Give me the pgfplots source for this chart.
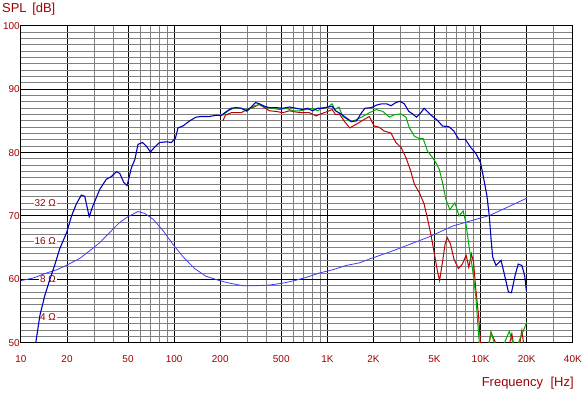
\documentclass[border=0pt]{standalone}
\usepackage{pgfplots}
\pgfplotsset{compat=1.18}
\usepackage{fontspec}
\setmainfont{Liberation Sans}
\usetikzlibrary{calc}
\definecolor{lblred}{RGB}{160,0,0}
\definecolor{splblue}{RGB}{0,0,185}
\definecolor{splgreen}{RGB}{0,170,0}
\definecolor{splred}{RGB}{190,0,0}
\definecolor{impblue}{RGB}{60,60,255}
\definecolor{gridgray}{RGB}{128,128,128}
\begin{document}
\begin{tikzpicture}
\begin{axis}[
  name=main,
  scale only axis,
  width=554pt, height=318pt,
  xmode=log, log basis x=10,
  xmin=10, xmax=40000, ymin=50, ymax=100,
  xtick={10,20,50,100,200,500,1000,2000,5000,10000,20000,40000},
  xticklabels={10,20,50,100,200,500,1K,2K,5K,10K,20K,40K},
  minor xtick={30,40,60,70,80,90,300,400,600,700,800,900,3000,4000,6000,7000,8000,9000,30000},
  ytick={50,60,70,80,90,100},
  yticklabels={50,60,70,80,90,100},
  minor ytick={51,52,53,54,55,56,57,58,59,61,62,63,64,65,66,67,68,69,71,72,73,74,75,76,77,78,79,81,82,83,84,85,86,87,88,89,91,92,93,94,95,96,97,98,99},
  grid=both,
  major grid style={black, line width=1pt},
  minor grid style={gridgray, line width=1pt},
  major tick length=0pt, minor tick length=0pt,
  axis line style={black, line width=1pt},
  xticklabel style={font=\fontsize{10}{10}\selectfont, text=lblred, anchor=center, yshift=-16pt},
  yticklabel style={font=\fontsize{10}{10}\selectfont, text=lblred, anchor=east, xshift=-1pt, inner sep=0pt},
  clip=true,
]
% impedance scale labels
\node[anchor=east, fill=white, inner sep=1pt, text=lblred, font=\fontsize{10}{10}\selectfont] at (axis cs:17.2,72) {32 Ω};
\node[anchor=east, fill=white, inner sep=1pt, text=lblred, font=\fontsize{10}{10}\selectfont] at (axis cs:17.2,66) {16 Ω};
\node[anchor=east, fill=white, inner sep=1pt, text=lblred, font=\fontsize{10}{10}\selectfont] at (axis cs:17.2,60) {8 Ω};
\node[anchor=east, fill=white, inner sep=1pt, text=lblred, font=\fontsize{10}{10}\selectfont] at (axis cs:17.2,54) {4 Ω};

% impedance curve
\addplot[impblue, line width=0.8pt, no marks] coordinates {
(10,59.8) (12,60.2) (14.7,61.0) (17.1,61.5) (19.8,62.2) (24.2,63.3) (28.1,64.5)
(32.7,65.8) (38,67.4) (44.2,69.0) (50,69.9) (58.1,70.7) (64.3,70.4) (72.8,69.5)
(84.6,67.7) (98.4,65.5) (108,64.3) (114,63.6) (136,61.7) (161,60.5) (198,59.8)
(230,59.4) (280,59.0) (342,59.0) (419,59.1) (512,59.4) (611,59.8) (727,60.3)
(888,61.0) (1080,61.5) (1330,62.2) (1620,62.6) (1880,63.2) (2540,64.3)
(3980,66.1) (4610,66.7) (6560,68.4) (11500,70.1) (20000,72.8)
};

% red SPL
\addplot[splred, line width=1pt, no marks] coordinates {
(208,85.0) (216,85.9) (236,86.3) (255,86.3) (274,86.3) (298,86.8) (326,87.1)
(358,87.6) (389,87.1) (419,86.6) (463,86.5) (512,86.3) (566,86.6) (625,86.4)
(690,86.3) (764,86.3) (843,85.8) (903,86.1) (1005,86.5) (1075,86.8) (1130,86.0)
(1200,86.1) (1285,85.0) (1400,83.9) (1550,84.5) (1700,85.1) (1880,85.7)
(2020,84.2) (2180,84.0) (2350,83.4) (2600,83.1) (2800,81.6) (3030,80.8)
(3260,79.2) (3500,77.1) (3700,75.0) (3980,73.7) (4280,71.9) (4510,69.5)
(4740,67.1) (4970,64.3) (5220,61.4) (5400,59.8) (5640,62.7) (5870,65.6)
(6060,66.6) (6360,65.6) (6700,63.2) (7170,61.7) (7600,62.4) (8050,63.8)
(8380,61.9) (8710,64.0) (9000,62.7) (9300,58.5) (9700,54.3) (10000,49.8)
(10500,47) (11000,48) (11700,51.6) (12800,49.5) (13500,48) (15000,48.5)
(16000,51.4) (16500,49.5) (17500,48) (18600,51.9) (19200,49.5) (20000,48)
};

% green SPL
\addplot[splgreen, line width=1pt, no marks] coordinates {
(208,85.9) (225,86.6) (249,87.1) (274,87.0) (298,86.5) (326,87.3) (361,87.6)
(398,87.1) (440,87.0) (486,86.8) (537,87.0) (594,86.6) (656,86.6) (726,86.8)
(800,87.0) (864,86.6) (932,87.1) (1005,87.1) (1075,87.7) (1120,86.8)
(1190,87.2) (1260,85.7) (1360,85.2) (1434,84.9) (1550,85.2) (1700,85.7)
(1880,86.3) (2090,86.8) (2300,86.5) (2540,85.6) (2740,86.0) (3030,86.1)
(3260,85.6) (3430,83.9) (3700,82.6) (3980,82.2) (4220,82.2) (4510,80.2)
(4860,79.2) (5110,78.4) (5370,77.4) (5640,75.3) (5940,72.6) (6300,71.0)
(6790,72.1) (7240,70.0) (7700,70.8) (8000,69.0) (8400,65.3) (8860,61.6)
(9300,57.4) (9800,50.1) (10000,47) (11000,48) (11700,51.7) (12800,48.5)
(13500,48.5) (15400,51.8) (16500,49.5) (17000,49) (20000,53.2)
};

% blue SPL
\addplot[splblue, line width=1.1pt, no marks] coordinates {
(12.2,48) (12.5,50) (13.3,54.3) (14.3,57.4) (15.5,60.1) (16.6,62.2) (17.9,64.8)
(19.9,67.4) (21.4,70.0) (23.0,71.9) (24.8,73.3) (26.1,73.1) (27.9,69.9)
(29.5,71.6) (32.7,74.2) (36.1,75.8) (38.9,76.2) (42.0,77.0) (44.2,76.7)
(46.9,75.3) (49.3,74.8) (52.6,77.6) (55.4,78.9) (58.1,81.3) (62.1,81.6)
(66.0,81.0) (70.0,80.1) (74.8,80.9) (80.4,81.6) (89.0,81.7) (96,81.6)
(102,82.3) (106,83.9) (114,84.2) (126,85.0) (139,85.6) (150,85.7) (170,85.7)
(188,85.9) (203,85.85) (214,86.3) (236,87.0) (255,87.1) (274,87.0) (298,86.6)
(318,87.2) (340,87.9) (361,87.7) (389,87.3) (419,87.1) (463,87.1) (512,87.0)
(566,87.2) (625,87.0) (690,86.8) (741,87.0) (800,86.6) (864,87.0) (932,87.0)
(1005,87.2) (1075,87.3) (1130,86.6) (1228,86.1) (1327,85.5) (1434,84.9)
(1550,85.0) (1672,86.3) (1760,87.0) (1940,87.1) (2090,87.5) (2260,87.7)
(2440,87.7) (2600,87.4) (2800,87.9) (2980,88.1) (3180,87.7) (3400,86.5)
(3600,86.1) (3820,85.6) (4080,86.3) (4280,87.0) (4570,86.3) (4860,85.7)
(5230,85.1) (5640,84.2) (6200,84.1) (6700,83.4) (7200,82.1) (7950,82.1)
(8630,80.8) (9300,79.9) (10000,78.4) (10500,75.8) (11000,73.2) (11400,70.0)
(11700,66.4) (12000,63.5) (12600,62.2) (13600,63.0) (14200,61.1) (15200,58.0)
(15900,57.9) (16800,60.6) (17600,62.4) (18600,62.2) (19400,60.6) (19900,58.2)
};
\end{axis}
\node[anchor=base west, text=lblred, font=\fontsize{13}{13}\selectfont, inner sep=0pt]
  at ($(main.north west)+(-19pt,13pt)$) {SPL\hspace{2pt} [dB]};
\node[anchor=base east, text=lblred, font=\fontsize{13}{13}\selectfont, inner sep=0pt]
  at ($(main.south east)+(1pt,-44pt)$) {Frequency\hspace{4pt} [Hz]};
\path[use as bounding box] ($(main.south west)+(-21pt,-51pt)$) rectangle ($(main.north east)+(10pt,26pt)$);
\end{tikzpicture}
\end{document}
